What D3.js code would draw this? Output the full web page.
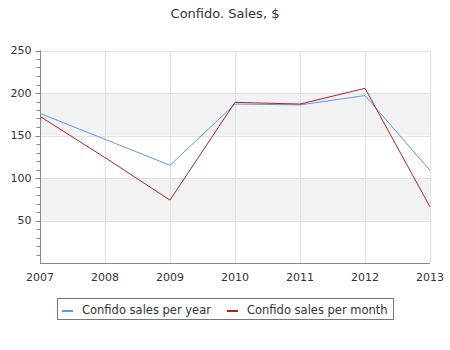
<!DOCTYPE html>
<html><head><meta charset="utf-8">
<script src="https://cdn.jsdelivr.net/npm/d3@7"></script>
<style>body{margin:0;background:#fff}svg{display:block}text{font-family:"DejaVu Sans",sans-serif;fill:#333}</style>
</head><body>
<script>
const years = [2007, 2008, 2009, 2010, 2011, 2012, 2013];
const salesPerYear = [176, 145.5, 115, 187, 186, 197, 109];
const salesPerMonth = [172.5, 124, 74, 189, 187, 205.5, 66];
const yTicks = [50, 100, 150, 200, 250];
const seriesNames = ["Confido sales per year", "Confido sales per month"];
const seriesColors = ["#6495ED", "#B22222"];
const title = "Confido. Sales, $";

const W = 450, H = 350;
const svg = d3.select("body").append("svg").attr("width", W).attr("height", H);
const x = d3.scaleLinear().domain([2007, 2013]).range([40, 430]);
const y = d3.scaleLinear().domain([0, 250]).range([263, 50.5]);

// bands
const bands = [[50, 100], [150, 200]];
svg.selectAll("rect.band").data(bands).enter().append("rect")
  .attr("x", x(2007)).attr("width", x(2013) - x(2007))
  .attr("y", d => y(d[1])).attr("height", d => y(d[0]) - y(d[1]))
  .attr("fill", "#f2f2f2");

// grid
const g = svg.append("g");
g.selectAll("line.h").data(yTicks).enter().append("line")
  .attr("x1", x(2007)).attr("x2", x(2013))
  .attr("y1", d => Math.round(y(d)) + 0.5).attr("y2", d => Math.round(y(d)) + 0.5)
  .attr("stroke", "#e0e0e0");
g.selectAll("line.v").data(years.slice(1)).enter().append("line")
  .attr("x1", d => Math.round(x(d)) + 0.5).attr("x2", d => Math.round(x(d)) + 0.5)
  .attr("y1", y(250)).attr("y2", y(0))
  .attr("stroke", "#e0e0e0");

// y axis
const yAxis = svg.append("g").attr("transform", "translate(40.5,0)");
yAxis.append("line").attr("x1", 0).attr("x2", 0).attr("y1", y(250)).attr("y2", y(0)).attr("stroke", "#888");
yAxis.selectAll("line.minor").data(d3.range(10, 251, 10)).enter().append("line")
  .attr("x1", d => d % 50 === 0 ? -5 : -4).attr("x2", 0)
  .attr("y1", d => Math.round(y(d)) + 0.5).attr("y2", d => Math.round(y(d)) + 0.5)
  .attr("stroke", "#888");
yAxis.selectAll("text").data(yTicks).enter().append("text")
  .attr("x", -9).attr("y", d => y(d)).attr("dy", "0.35em")
  .attr("text-anchor", "end").attr("font-size", 11).text(d => d);

// x axis
svg.append("line").attr("x1", x(2007)).attr("x2", x(2013))
  .attr("y1", Math.round(y(0)) + 0.5).attr("y2", Math.round(y(0)) + 0.5).attr("stroke", "#888");
svg.selectAll("text.xl").data(years).enter().append("text")
  .attr("x", d => x(d)).attr("y", 277).attr("dy", "0.35em")
  .attr("text-anchor", "middle").attr("font-size", 11).text(d => d);

// lines
const line = d3.line().x((d, i) => x(years[i])).y(d => y(d));
[salesPerYear, salesPerMonth].forEach((s, i) => {
  svg.append("path").attr("d", line(s)).attr("fill", "none")
    .attr("stroke", seriesColors[i]).attr("stroke-width", 1);
});

// title
svg.append("text").attr("x", 225).attr("y", 13).attr("dy", "0.35em")
  .attr("text-anchor", "middle").attr("font-size", 13).text(title);

// legend
svg.append("rect").attr("x", 57.5).attr("y", 298.5).attr("width", 336).attr("height", 21)
  .attr("fill", "#fff").attr("stroke", "#777");
const lx = [62, 227];
seriesNames.forEach((n, i) => {
  svg.append("line").attr("x1", lx[i]).attr("x2", lx[i] + 11).attr("y1", 311).attr("y2", 311)
    .attr("stroke", seriesColors[i]).attr("stroke-width", 2);
  svg.append("text").attr("x", lx[i] + 20).attr("y", 310).attr("dy", "0.35em")
    .attr("font-size", 11.5).text(n);
});
</script>
</body></html>
